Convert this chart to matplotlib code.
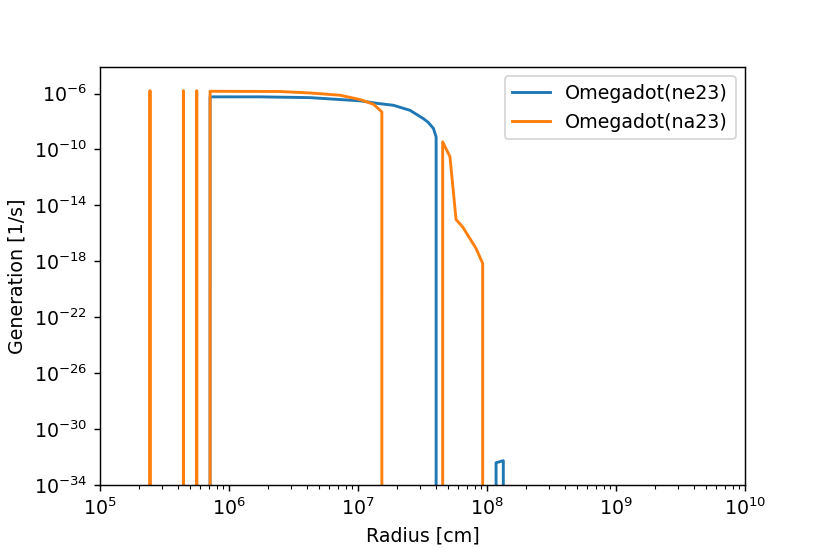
import matplotlib
matplotlib.use("Agg")
import matplotlib.pyplot as plt

# ---------- data ----------
# Omegadot(ne23)
r_ne23 = [1.0e5, 7.10e5, 7.13e5, 1.74e6, 4.25e6, 1.04e7, 1.40e7, 1.88e7, 2.53e7,
          3.21e7, 3.49e7, 3.84e7, 4.03e7, 4.04e7, 1.172e8, 1.175e8, 1.337e8, 1.340e8, 1.0e10]
w_ne23 = [0.0, 0.0, 5.8e-7, 5.8e-7, 5.1e-7, 3.0e-7, 2.0e-7, 1.45e-7, 6.3e-8,
          1.6e-8, 8.9e-9, 3.2e-9, 7.9e-10, 0.0, 0.0, 3.9e-33, 5.5e-33, 0.0, 0.0]

# Omegadot(na23)
r_na23 = [1.0e5, 2.43e5, 2.44e5, 2.45e5, 4.42e5, 4.43e5, 4.44e5,
          5.61e5, 5.62e5, 5.63e5, 7.10e5, 7.13e5, 2.48e6, 4.25e6, 7.24e6,
          1.04e7, 1.32e7, 1.53e7, 1.535e7, 4.52e7, 4.53e7, 5.16e7, 5.75e7,
          6.47e7, 8.22e7, 9.25e7, 9.28e7, 1.0e10]
w_na23 = [0.0, 0.0, 1.6e-6, 0.0, 0.0, 1.6e-6, 0.0,
          0.0, 1.6e-6, 0.0, 0.0, 1.45e-6, 1.4e-6, 1.1e-6, 7.6e-7,
          3.7e-7, 1.7e-7, 4.8e-8, 0.0, 0.0, 3.5e-10, 3.0e-11, 9.8e-16,
          2.9e-16, 8.3e-18, 7.1e-19, 0.0, 0.0]

# ---------- plot ----------
plt.rcParams['font.size'] = 10.5

fig, ax = plt.subplots(figsize=(6.385, 4.262), dpi=130)
fig.subplots_adjust(left=0.1205, right=0.8976, bottom=0.1245, top=0.879)

ax.set_xscale('log')
ax.set_yscale('log')
ax.plot(r_ne23, w_ne23, lw=1.6, label='Omegadot(ne23)')
ax.plot(r_na23, w_na23, lw=1.6, label='Omegadot(na23)')

ax.set_xlim(1e5, 1e10)
ax.set_ylim(1e-34, 10**-4.1)
ax.set_xlabel('Radius [cm]')
ax.set_ylabel('Generation [1/s]')
ax.legend(loc='upper right')

fig.savefig('out.png', dpi=130)
